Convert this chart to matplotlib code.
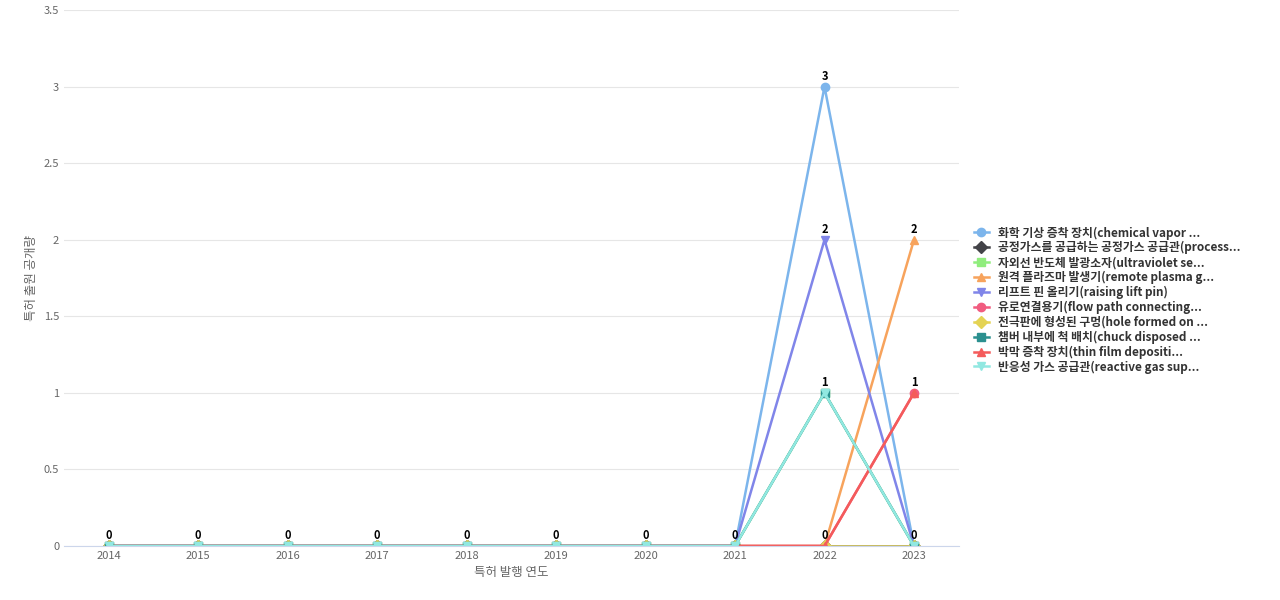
import matplotlib
matplotlib.use("Agg")
import matplotlib.pyplot as plt

plt.rcParams['font.family'] = ['Noto Sans CJK KR', 'DejaVu Sans']

years = list(range(2014, 2024))
names = [
    "화학 기상 증착 장치(chemical vapor ...",
    "공정가스를 공급하는 공정가스 공급관(process...",
    "자외선 반도체 발광소자(ultraviolet se...",
    "원격 플라즈마 발생기(remote plasma g...",
    "리프트 핀 올리기(raising lift pin)",
    "유로연결용기(flow path connecting...",
    "전극판에 형성된 구멍(hole formed on ...",
    "챔버 내부에 척 배치(chuck disposed ...",
    "박막 증착 장치(thin film depositi...",
    "반응성 가스 공급관(reactive gas sup...",
]
values = [
    [0, 0, 0, 0, 0, 0, 0, 0, 3, 0],
    [0, 0, 0, 0, 0, 0, 0, 0, 0, 0],
    [0, 0, 0, 0, 0, 0, 0, 0, 1, 0],
    [0, 0, 0, 0, 0, 0, 0, 0, 0, 2],
    [0, 0, 0, 0, 0, 0, 0, 0, 2, 0],
    [0, 0, 0, 0, 0, 0, 0, 0, 0, 1],
    [0, 0, 0, 0, 0, 0, 0, 0, 0, 0],
    [0, 0, 0, 0, 0, 0, 0, 0, 1, 0],
    [0, 0, 0, 0, 0, 0, 0, 0, 0, 1],
    [0, 0, 0, 0, 0, 0, 0, 0, 1, 0],
]
colors = ["#7cb5ec", "#434348", "#90ed7d", "#f7a35c", "#8085e9",
          "#f15c80", "#e4d354", "#2b908f", "#f45b5b", "#91e8e1"]
markers = ["o", "D", "s", "^", "v", "o", "D", "s", "^", "v"]

fig = plt.figure(figsize=(12.8, 6), dpi=100)
ax = fig.add_axes([0.05, 0.09, 0.699, 0.893])

for name, vals, c, m in zip(names, values, colors, markers):
    ax.plot(years, vals, color=c, marker=m, markersize=6, linewidth=1.8, label=name)

# data labels: max per year shown once
for i, y in enumerate(years):
    for v in sorted(set(vals[i] for vals in values)):
        ax.annotate(str(v), (y, v), xytext=(0, 5), textcoords="offset points",
                    ha="center", fontsize=8, fontweight="bold")

ax.set_ylim(0, 3.5)
ax.set_xlim(2013.5, 2023.5)
ax.set_xticks(years)
ax.set_yticks([0, 0.5, 1, 1.5, 2, 2.5, 3, 3.5])
ax.set_yticklabels(["0", "0.5", "1", "1.5", "2", "2.5", "3", "3.5"])
ax.grid(axis="y", color="#e6e6e6")
ax.tick_params(length=0, labelsize=8, colors="#666666")
for s in ["top", "right", "left"]:
    ax.spines[s].set_visible(False)
ax.spines["bottom"].set_color("#ccd6eb")
ax.set_xlabel("특허 발행 연도", fontsize=9, color="#666666")
ax.set_ylabel("특허 출원 공개량", fontsize=9, color="#666666")

leg = fig.legend(loc="center left", bbox_to_anchor=(0.757, 0.5), frameon=False,
                 fontsize=8.5, handlelength=1.3, labelspacing=0.15, borderaxespad=0)
for t in leg.get_texts():
    t.set_fontweight("bold")
    t.set_color("#333333")

fig.savefig("out.png")
